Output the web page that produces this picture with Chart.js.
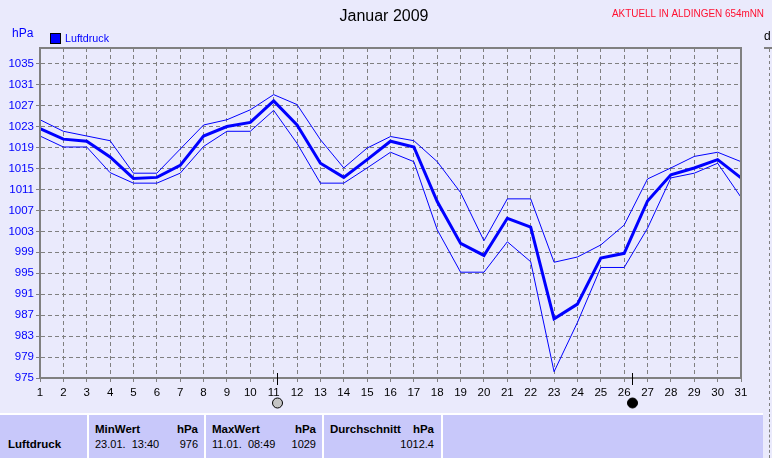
<!DOCTYPE html>
<html><head><meta charset="utf-8">
<script src="https://cdn.jsdelivr.net/npm/chart.js@4"></script>
<style>
html,body{margin:0;padding:0;background:#EAEAFC;width:772px;height:458px;overflow:hidden;font-family:"Liberation Sans",Arial,sans-serif;}
#wrap{position:relative;width:772px;height:458px;}
#c{position:absolute;left:0;top:0;}
#tbl{position:absolute;left:0;top:413px;width:763px;height:45px;background:#C8C8FA;border-top:2px solid #fff;box-sizing:border-box;}
.sep{position:absolute;top:0;width:2px;height:45px;background:#fff;}
.t{position:absolute;font-size:11px;color:#000;white-space:pre;line-height:13px;}
.b{font-weight:bold;font-size:11.5px;}
.r{text-align:right;}
#side{position:absolute;left:769px;top:414px;height:44px;border-left:1px dashed #808080;}
</style>
</head><body>
<div id="wrap">
<canvas id="c" width="772" height="414"></canvas>
<div id="tbl">
  <div class="sep" style="left:87px"></div>
  <div class="sep" style="left:204px"></div>
  <div class="sep" style="left:322px"></div>
  <div class="sep" style="left:441px"></div>
  <div class="t b" style="left:8px;top:23px">Luftdruck</div>
  <div class="t b" style="left:95px;top:8px">MinWert</div>
  <div class="t b r" style="left:150px;width:48px;top:8px">hPa</div>
  <div class="t" style="left:95px;top:23px">23.01.  13:40</div>
  <div class="t r" style="left:150px;width:48px;top:23px">976</div>
  <div class="t b" style="left:212px;top:8px">MaxWert</div>
  <div class="t b r" style="left:268px;width:48px;top:8px">hPa</div>
  <div class="t" style="left:212px;top:23px">11.01.  08:49</div>
  <div class="t r" style="left:268px;width:48px;top:23px">1029</div>
  <div class="t b" style="left:330px;top:8px">Durchschnitt</div>
  <div class="t b r" style="left:386px;width:48px;top:8px">hPa</div>
  <div class="t r" style="left:366px;width:68px;top:23px">1012.4</div>
</div>
<div id="side"></div>
</div>
<script>
const days = [1,2,3,4,5,6,7,8,9,10,11,12,13,14,15,16,17,18,19,20,21,22,23,24,25,26,27,28,29,30,31];
const mittel = [1022.6,1020.6,1020.2,1017.2,1013.1,1013.3,1015.6,1021.2,1023.0,1023.8,1027.9,1023.3,1016.0,1013.3,1016.7,1020.2,1019.1,1008.7,1000.7,998.4,1005.5,1003.8,986.3,989.1,997.9,998.8,1008.8,1013.8,1015.1,1016.7,1013.2];
const maxima = [1024.3,1022.1,1021.2,1020.3,1014.1,1014.1,1018.7,1023.3,1024.3,1026.2,1029.1,1027.2,1020.5,1015.1,1018.9,1021.1,1020.3,1016.3,1010.4,1001.2,1009.2,1009.2,997.1,998.1,1000.4,1004.2,1013.0,1015.1,1017.3,1018.1,1016.3];
const minima = [1021.2,1019.1,1019.1,1014.2,1012.2,1012.2,1014.1,1019.2,1022.1,1022.1,1026.1,1019.8,1012.2,1012.2,1015.1,1018.1,1016.3,1003.3,995.2,995.2,1001.0,997.2,976.2,985.6,996.1,996.1,1003.6,1013.2,1014.1,1016.0,1009.5];
const yTicks = [975,979,983,987,991,995,999,1003,1007,1011,1015,1019,1023,1027,1031,1035];
const moonDays = [11.15, 26.33];
const moonTypes = ['voll','neu'];
const titel = 'Januar 2009';
const ortText = 'AKTUELL IN ALDINGEN 654mNN';
const einheit = 'hPa';
const serienName = 'Luftdruck';

const pts = arr => days.map((d,i)=>({x:d,y:arr[i]}));
const FONT = '"Liberation Sans", Arial, sans-serif';

const deco = {
  id:'deco',
  afterDraw(chart){
    const {ctx, chartArea:a, scales:{x}} = chart;
    ctx.save();
    ctx.strokeStyle='#808080'; ctx.lineWidth=2; ctx.setLineDash([]);
    ctx.strokeRect(a.left, a.top, a.right-a.left, a.bottom-a.top);
    ctx.textBaseline='alphabetic';
    ctx.fillStyle='#000'; ctx.font='16px '+FONT; ctx.textAlign='center';
    ctx.fillText(titel, 384, 21);
    ctx.fillStyle='#FF1030'; ctx.font='11px '+FONT; ctx.textAlign='left';
    ctx.fillText(ortText, 612, 17, 152);
    ctx.fillStyle='#0000FF'; ctx.font='12px '+FONT;
    ctx.fillText(einheit, 12, 37);
    ctx.fillStyle='#0000FF'; ctx.fillRect(50.5,33.5,10,10);
    ctx.strokeStyle='#000'; ctx.lineWidth=1; ctx.strokeRect(50.5,33.5,10,10);
    ctx.fillStyle='#0000FF'; ctx.font='11.5px '+FONT;
    ctx.fillText(serienName, 65, 42, 44);
    // second chart fragment at right edge
    ctx.fillStyle='#000'; ctx.font='12px '+FONT;
    ctx.fillText('d', 764, 40);
    ctx.strokeStyle='#808080'; ctx.lineWidth=2;
    ctx.beginPath(); ctx.moveTo(764,48); ctx.lineTo(772,48); ctx.stroke();
    ctx.lineWidth=1; ctx.setLineDash([3,3]);
    ctx.beginPath(); ctx.moveTo(769.5,49); ctx.lineTo(769.5,414); ctx.stroke();
    ctx.setLineDash([]);
    // moon phases
    moonDays.forEach((d,i)=>{
      const px = Math.round(x.getPixelForValue(d))+0.5;
      ctx.strokeStyle='#000'; ctx.lineWidth=1;
      ctx.beginPath(); ctx.moveTo(px, a.bottom-5); ctx.lineTo(px, a.bottom+7); ctx.stroke();
      ctx.beginPath(); ctx.arc(px, 403, 5, 0, Math.PI*2);
      ctx.fillStyle = moonTypes[i]==='neu' ? '#000' : '#C4C4C4';
      ctx.fill(); ctx.stroke();
    });
    ctx.restore();
  }
};

const gridOpts = {color:'#808080', lineWidth:1, tickLength:4, drawTicks:true};
const borderOpts = {display:true, color:'#808080', width:2, dash:[4,3]};

new Chart(document.getElementById('c'), {
  type:'line',
  data:{datasets:[
    {label:serienName, data:pts(mittel), borderColor:'#0000FF', borderWidth:3, pointRadius:0, tension:0, fill:false},
    {label:'max', data:pts(maxima), borderColor:'#0000FF', borderWidth:1, pointRadius:0, tension:0, fill:false},
    {label:'min', data:pts(minima), borderColor:'#0000FF', borderWidth:1, pointRadius:0, tension:0, fill:false}
  ]},
  options:{
    responsive:false, animation:false, devicePixelRatio:1,
    layout:{padding:{top:48,right:31,left:0,bottom:0}},
    plugins:{legend:{display:false}, title:{display:false}, tooltip:{enabled:false}},
    scales:{
      x:{type:'linear', min:1, max:31,
        afterBuildTicks:s=>{s.ticks=days.map(d=>({value:d}));},
        afterFit:s=>{s.height=36;},
        grid:gridOpts, border:borderOpts,
        ticks:{color:'#000', font:{family:FONT, size:11.5}, padding:4, maxRotation:0, autoSkip:false, callback:v=>String(v)}
      },
      y:{min:975, max:1038,
        afterBuildTicks:s=>{s.ticks=yTicks.map(v=>({value:v}));},
        afterFit:s=>{s.width=40;},
        grid:gridOpts, border:borderOpts,
        ticks:{color:'#0000FF', font:{family:FONT, size:11.5}, padding:2, callback:v=>String(v)}
      }
    }
  },
  plugins:[deco]
});
</script>
</body></html>
